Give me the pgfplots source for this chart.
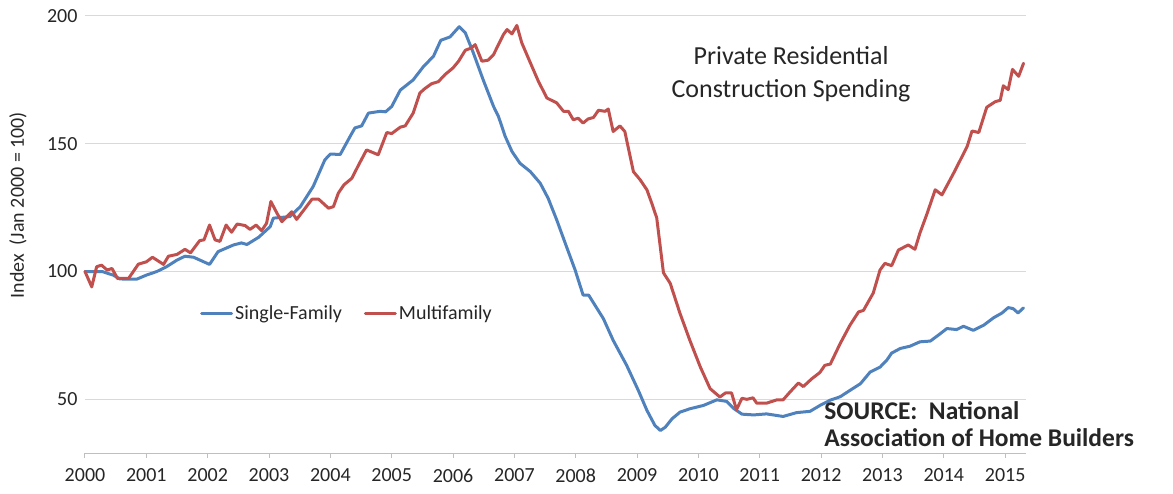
\documentclass[border=0pt]{standalone}
\usepackage{pgfplots}
\pgfplotsset{compat=1.18}
\usepackage{fontspec}
\setmainfont{Carlito}
\definecolor{sfblue}{HTML}{4F81BD}
\definecolor{mfred}{HTML}{C0504D}
\definecolor{gridgray}{HTML}{D9D9D9}
\definecolor{axgray}{HTML}{BFBFBF}
\definecolor{txt}{HTML}{262626}
\begin{document}
\begin{tikzpicture}
\useasboundingbox (-85pt,-40pt) rectangle (1088pt,453pt);
\begin{axis}[
  scale only axis, width=941pt, height=437pt,
  xmin=2000, xmax=2015.34, ymin=29, ymax=200,
  clip=false,
  axis x line*=bottom, axis y line*=left,
  y axis line style={draw=none},
  x axis line style={draw=axgray, line width=1pt, -},
  xtick={2000,2001,...,2015}, ytick={50,100,150,200},
  xtick align=outside, major tick length=5pt,
  xtick style={draw=axgray, line width=1pt},
  ytick style={draw=none},
  ymajorgrids, grid style={gridgray, line width=1pt},
  /pgf/number format/assume math mode=true,
  /pgf/number format/1000 sep={},
  tick label style={font=\fontsize{20}{24}\selectfont, text=txt},
  xticklabel style={yshift=-7pt},
  yticklabel style={xshift=-4pt},
  ylabel={Index\ \ (Jan 2000 = 100)},
  ylabel style={font=\fontsize{20}{24}\selectfont, text=txt, at={(axis description cs:-0.0712,0.567)}, anchor=center},
  legend style={draw=none, fill=none, at={(axis description cs:0.1222,0.32)}, anchor=west,
    inner sep=0pt, font=\fontsize{20}{24}\selectfont, text=txt,
    /tikz/every even column/.append style={column sep=20pt}},
  legend columns=2,
  legend image code/.code={\draw[#1] (0pt,0pt) -- (30pt,0pt);},
  every axis plot/.append style={line width=3pt, line join=round, line cap=round},
]
\addplot[sfblue] coordinates {
(2000.0,100)(2000.28,100)(2000.46,98.6)(2000.57,97.1)(2000.84,97)(2001.0,98.6)
(2001.17,100)(2001.33,101.9)(2001.5,104.5)(2001.63,106)(2001.77,105.6)(2002.03,102.8)
(2002.17,107.8)(2002.42,110.4)(2002.55,111.2)(2002.64,110.6)(2002.83,113.4)(2003.02,117.6)
(2003.07,120.9)(2003.34,121.5)(2003.51,125.4)(2003.72,133.3)(2003.91,143.7)(2004.0,146)
(2004.16,145.8)(2004.32,152.8)(2004.4,156.2)(2004.51,157)(2004.62,162)(2004.81,162.7)
(2004.9,162.5)(2005.0,164.6)(2005.14,171)(2005.35,175)(2005.52,180.3)(2005.68,184.2)
(2005.8,190.5)(2005.95,191.8)(2006.1,195.8)(2006.2,193.4)(2006.33,185.6)(2006.49,175.1)
(2006.66,164.6)(2006.74,160.7)(2006.85,152.9)(2006.96,147)(2007.09,142.4)(2007.26,139.1)
(2007.42,134.6)(2007.55,128.7)(2007.69,120.2)(2007.85,109.7)(2007.99,100.6)(2008.12,90.8)
(2008.21,90.8)(2008.45,81.6)(2008.61,73.1)(2008.83,63.3)(2009.02,53.5)(2009.16,45.7)
(2009.29,39.8)(2009.38,37.8)(2009.46,39.1)(2009.57,42.4)(2009.7,45)(2009.86,46.3)
(2010.08,47.6)(2010.3,49.8)(2010.46,49.2)(2010.57,46.5)(2010.71,44.2)(2010.9,43.9)
(2011.11,44.3)(2011.38,43.3)(2011.6,44.8)(2011.82,45.3)(2011.98,47.6)(2012.15,49.7)
(2012.31,51)(2012.47,53.5)(2012.64,56.1)(2012.8,60.7)(2012.96,62.6)(2013.07,65.3)
(2013.15,68.1)(2013.29,69.9)(2013.45,70.8)(2013.61,72.5)(2013.78,72.8)(2013.91,75.1)
(2014.05,77.7)(2014.21,77.3)(2014.32,78.6)(2014.48,77)(2014.65,79)(2014.81,81.9)
(2014.95,83.8)(2015.05,85.9)(2015.13,85.5)(2015.21,83.8)(2015.3,85.8)
};
\addlegendentry{Single-Family}
\addplot[mfred] coordinates {
(2000.0,100)(2000.11,94)(2000.19,101.9)(2000.27,102.5)(2000.36,100.6)(2000.44,101.2)
(2000.53,97.3)(2000.71,97.3)(2000.87,102.9)(2001.0,103.8)(2001.1,105.6)(2001.28,102.8)
(2001.36,106)(2001.5,106.7)(2001.63,108.7)(2001.72,107.3)(2001.87,112.1)(2001.94,112.4)
(2002.03,118.2)(2002.12,112.4)(2002.2,111.8)(2002.3,118.2)(2002.39,115.4)(2002.48,118.6)
(2002.61,118)(2002.69,116.5)(2002.79,118.2)(2002.88,116)(2002.96,118.9)(2003.03,127.4)
(2003.13,122.8)(2003.21,119.5)(2003.29,121.5)(2003.37,123.4)(2003.45,120.4)(2003.59,124.8)
(2003.7,128.3)(2003.81,128.3)(2003.97,124.8)(2004.05,125.4)(2004.13,130.7)(2004.22,133.9)
(2004.35,136.5)(2004.46,141.7)(2004.59,147.6)(2004.78,145.7)(2004.92,154.4)(2005.0,154)
(2005.14,156.5)(2005.22,157)(2005.35,162)(2005.46,169.9)(2005.54,171.6)(2005.65,173.5)
(2005.76,174.3)(2005.87,177.1)(2006.0,179.7)(2006.09,182.3)(2006.2,186.6)(2006.3,187.5)
(2006.36,188.8)(2006.47,182.3)(2006.57,182.7)(2006.66,184.9)(2006.82,192.7)(2006.88,194.7)
(2006.96,193)(2007.04,196.3)(2007.12,189.5)(2007.26,181.7)(2007.39,174.5)(2007.53,167.9)
(2007.69,166)(2007.8,162.7)(2007.88,162.7)(2007.96,159.4)(2008.04,160)(2008.12,158.1)
(2008.2,159.7)(2008.29,160.3)(2008.37,163.1)(2008.48,162.7)(2008.53,163.6)(2008.61,154.8)
(2008.72,157)(2008.8,154.8)(2008.94,139.1)(2009.05,135.9)(2009.16,132)(2009.25,126)
(2009.32,121)(2009.43,99.5)(2009.54,95.4)(2009.7,83.6)(2009.86,73.1)(2010.03,62.7)
(2010.19,54.2)(2010.35,50.9)(2010.44,52.5)(2010.54,52.5)(2010.62,46)(2010.71,50.4)
(2010.79,50)(2010.89,50.6)(2010.95,48.5)(2011.11,48.5)(2011.28,49.8)(2011.38,49.8)
(2011.49,52.8)(2011.63,56.4)(2011.71,55)(2011.85,58.1)(2011.98,60.5)(2012.06,63.3)
(2012.15,63.8)(2012.31,71.8)(2012.47,79)(2012.61,84.2)(2012.69,84.8)(2012.85,91.6)
(2012.96,100.6)(2013.04,103.2)(2013.15,102.3)(2013.26,108.4)(2013.42,110.4)(2013.53,108.7)
(2013.61,115)(2013.72,122.2)(2013.86,132)(2013.97,130)(2014.16,138.5)(2014.38,148.9)
(2014.46,155)(2014.57,154.4)(2014.7,164.3)(2014.84,166.5)(2014.92,167)(2014.97,172.7)
(2015.05,171.2)(2015.12,179.1)(2015.22,176.4)(2015.3,181.5)
};
\addlegendentry{Multifamily}
\node[anchor=base, font=\fontsize{26}{30}\selectfont, text=txt, inner sep=0pt] at (axis cs:2011.51,181) {Private Residential};
\node[anchor=base, font=\fontsize{26}{30}\selectfont, text=txt, inner sep=0pt] at (axis cs:2011.51,168.2) {Construction Spending};
\node[anchor=south west, align=left, text depth=0pt, font=\fontsize{25.5}{27}\selectfont\bfseries, text=txt, inner sep=0pt] at (axis cs:2012.05,31.4) {SOURCE:\ \ National\\Association of Home Builders};
\end{axis}
\end{tikzpicture}
\end{document}
